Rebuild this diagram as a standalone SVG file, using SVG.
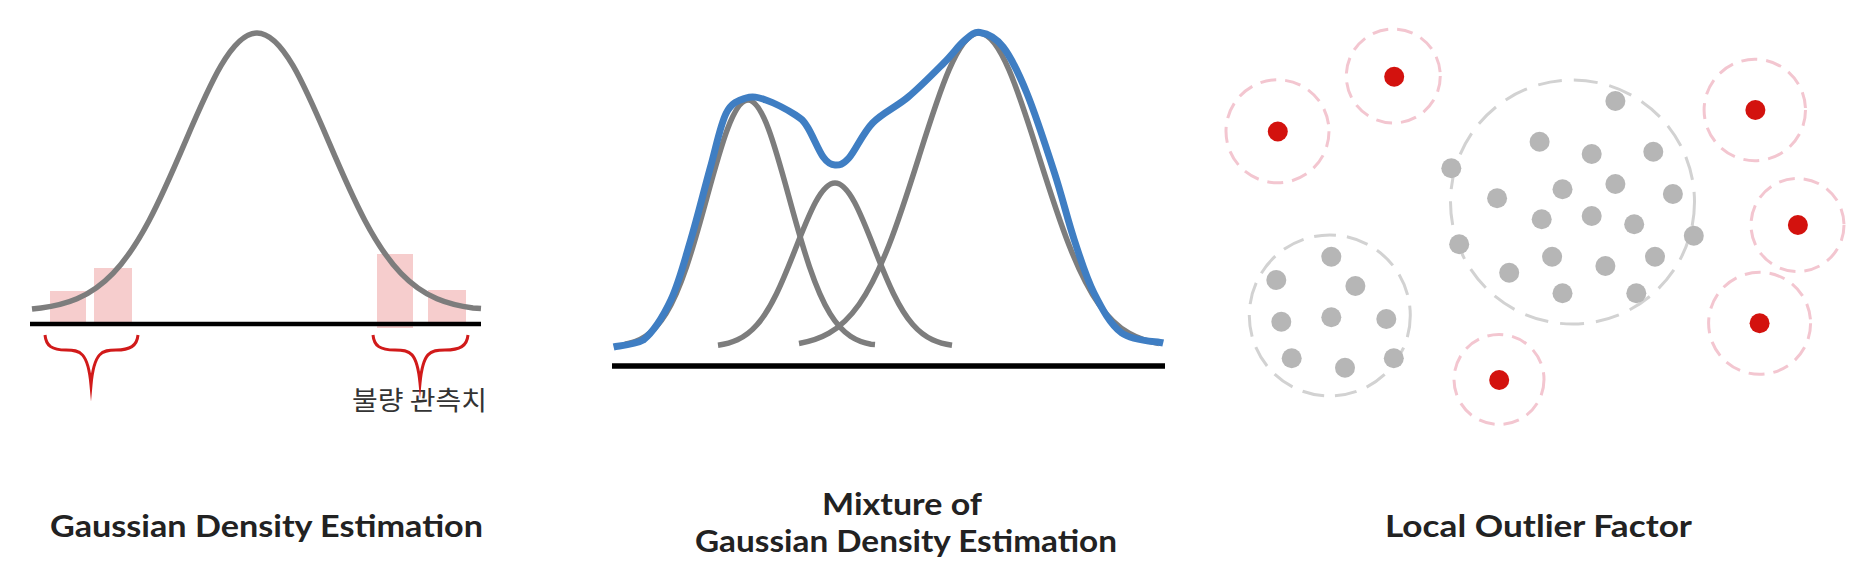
<svg xmlns="http://www.w3.org/2000/svg" width="1854" height="587" viewBox="0 0 1854 587">
<style>
.bar{fill:#f6cdcd}
.axis{stroke:#000;stroke-width:4.5;fill:none}
.gcurve{stroke:#7d7d7d;stroke-width:5.5;fill:none;stroke-linecap:butt}
.bcurve{stroke:#3f7ec3;stroke-width:7;fill:none;stroke-linecap:butt}
.brace{stroke:#d11a1a;stroke-width:3;fill:none;stroke-linejoin:miter;stroke-miterlimit:20}
.pink{fill:none;stroke:#f3c6d0;stroke-width:3;stroke-dasharray:16 9}
.grayc{fill:none;stroke:#d2d2d2;stroke-width:3;stroke-dasharray:24 12}
.red{fill:#d3120e}
.gdot{fill:#b6b6b6}
.title{font-family:Lato,"Open Sans","Liberation Sans",sans-serif;font-weight:700;font-size:30px;fill:#222;text-anchor:middle}
.kor{font-family:"Noto Sans CJK KR","Noto Sans",sans-serif;font-size:26px;fill:#333}
</style>

<g id="gaussian-density">
  <rect class="bar" x="50" y="291" width="36" height="34"/>
  <rect class="bar" x="94" y="268" width="38" height="57"/>
  <rect class="bar" x="377" y="254" width="36" height="74"/>
  <rect class="bar" x="428" y="290" width="38" height="35"/>
  <line class="axis" x1="30" y1="324" x2="481" y2="324"/>
  <path class="gcurve" d="M32,309 L41,307.9 C53,306.4 65,303.9 77,298.8 C89,293.7 101,285.9 113,273.4 C125,260.9 137,243.3 149,220.7 C161,198.1 173,170.5 185,142.4 C197,114.3 209,86.15 221,65.7 C233,45.25 245,33 257,33 C269,33 281,45.25 293,65.7 C305,86.15 317,114.3 329,142.4 C341,170.5 353,198.1 365,220.7 C377,243.3 389,260.9 401,273.4 C413,285.9 425,293.7 437,298.8 C449,303.9 461,306.4 473,307.9 L481,308.5"/>
  <text class="kor" x="352" y="410" textLength="135" lengthAdjust="spacingAndGlyphs">불량 관측치</text>
  <text class="title" x="266.5" y="537" textLength="433" lengthAdjust="spacingAndGlyphs">Gaussian Density Estimation</text>
</g>

<g id="connectors">
  <path class="brace" d="M45,335 C46,346 52,350 66,350 C80,350 88,352 91,385 C94,352 102,350 116,350 C130,350 137,346 138,335"/>
  <path class="brace" d="M373,335 C374,346 380,350 395,350 C410,350 417,352 420,383 C423,352 430,350 445,350 C460,350 467,346 468,335"/>
</g>

<g id="mixture-gaussian">
  <line class="axis" x1="612" y1="366" x2="1165" y2="366" style="stroke-width:5.5"/>
  <path class="gcurve" d="M625,344.3 C631.83,342.93 638.67,340.72 645.5,336.2 C652.33,331.68 659.17,324.74 666,313.6 C672.83,302.46 679.67,286.85 686.5,266.8 C693.33,246.75 700.17,222.17 707,197.2 C713.83,172.23 720.67,147.16 727.5,129 C734.33,110.84 741.17,100 748,100 C754.83,100 761.67,110.84 768.5,129 C775.33,147.16 782.17,172.23 789,197.2 C795.83,222.17 802.67,246.75 809.5,266.8 C816.33,286.85 823.17,302.46 830,313.6 C836.83,324.74 843.67,331.68 850.5,336.2 C857.33,340.72 864.17,342.93 871,344.3 L875,344.6"/>
  <path class="gcurve" d="M718,345.2 C724.5,344.29 731,342.8 737.5,339.8 C744,336.8 750.5,332.2 757,324.8 C763.5,317.4 770,307.01 776.5,293.7 C783,280.39 789.5,264.08 796,247.5 C802.5,230.92 809,214.36 815.5,202.3 C822,190.24 828.5,183 835,183 C841.5,183 848,190.24 854.5,202.3 C861,214.36 867.5,230.92 874,247.5 C880.5,264.08 887,280.39 893.5,293.7 C900,307.01 906.5,317.4 913,324.8 C919.5,332.2 926,336.8 932.5,339.8 C939,342.8 945.5,344.29 952,345.2"/>
  <path class="gcurve" d="M799,343.5 C809,341.76 819,338.95 829,333.2 C839,327.45 849,318.66 859,304.5 C869,290.34 879,270.49 889,245 C899,219.51 909,188.34 919,156.6 C929,124.86 939,92.99 949,69.9 C959,46.81 969,33 979,33 C989,33 999,46.81 1009,69.9 C1019,92.99 1029,124.86 1039,156.6 C1049,188.34 1059,219.51 1069,245 C1079,270.49 1089,290.34 1099,304.5 C1109,318.66 1119,327.45 1129,333.2 C1139,338.95 1149,341.76 1159,343.5"/>
  <path class="bcurve" d="M613.6,347 C618.6,345.8 633.8,345 643.3,340 C652.9,332.2 663,316.7 670.9,300 C678.8,283.3 684.1,262.2 690.7,240 C697.3,217.8 704.6,188.2 710.5,167 C716.4,145.8 720.4,124.5 726.3,113 C732.2,101.5 739.5,100.2 746.1,98 C752.7,95.8 757.6,97.2 765.8,100 C774,102.8 788.6,110.5 795.5,115 C802.4,119.5 802.8,120 807.4,127 C812,134 818.6,150.7 823.2,157 C827.8,163.3 830.7,164.8 835,165 C839.3,165.2 842.6,165 848.9,158 C855.2,151 862.7,133.2 872.6,123 C882.5,112.8 896.3,107 908.2,97 C920.1,87 934.5,72.3 943.8,63 C953.1,53.7 958,46.1 964,41 C970,35.9 973.5,31.5 980,32.5 C986.5,33.5 995.3,36.9 1003.1,47 C1010.9,57.1 1018.2,72 1026.8,93 C1035.4,114 1046.6,148.5 1054.5,173 C1062.4,197.5 1067.7,220 1074.3,240 C1080.9,260 1086.1,277.5 1094,293 C1101.9,308.5 1110.2,324.7 1121.7,333 C1133.2,341.3 1156.3,341.3 1163.2,343"/>
  <text class="title" x="902" y="515" textLength="160" lengthAdjust="spacingAndGlyphs">Mixture of</text>
  <text class="title" x="906" y="552" textLength="422" lengthAdjust="spacingAndGlyphs">Gaussian Density Estimation</text>
</g>

<g id="local-outlier-factor">
  <circle class="grayc" cx="1572.5" cy="202" r="122"/>
  <circle class="grayc" cx="1329.8" cy="315.5" r="80.5" style="stroke-dasharray:22 11"/>
  <g id="outliers">
    <circle class="pink" cx="1277.5" cy="131.3" r="51.5"/>
    <circle class="red" cx="1277.8" cy="131.5" r="10"/>
    <circle class="pink" cx="1393.3" cy="76" r="47"/>
    <circle class="red" cx="1394.2" cy="76.7" r="10"/>
    <circle class="pink" cx="1754.8" cy="110" r="50.7"/>
    <circle class="red" cx="1755.4" cy="110" r="10"/>
    <circle class="pink" cx="1797.5" cy="225" r="46.5"/>
    <circle class="red" cx="1797.9" cy="225" r="10"/>
    <circle class="pink" cx="1759.6" cy="323.3" r="51"/>
    <circle class="red" cx="1759.6" cy="323.3" r="10"/>
    <circle class="pink" cx="1499" cy="379.5" r="45"/>
    <circle class="red" cx="1499.2" cy="380" r="10"/>
  </g>
  <g id="cluster-large">
    <circle class="gdot" cx="1615.4" cy="101" r="10"/>
    <circle class="gdot" cx="1539.6" cy="141.7" r="10"/>
    <circle class="gdot" cx="1591.7" cy="154" r="10"/>
    <circle class="gdot" cx="1653.3" cy="151.7" r="10"/>
    <circle class="gdot" cx="1451.3" cy="168.3" r="10"/>
    <circle class="gdot" cx="1562.5" cy="189.3" r="10"/>
    <circle class="gdot" cx="1615.4" cy="184" r="10"/>
    <circle class="gdot" cx="1672.9" cy="194" r="10"/>
    <circle class="gdot" cx="1497.1" cy="198.3" r="10"/>
    <circle class="gdot" cx="1541.7" cy="219.3" r="10"/>
    <circle class="gdot" cx="1591.7" cy="216" r="10"/>
    <circle class="gdot" cx="1634.2" cy="224.3" r="10"/>
    <circle class="gdot" cx="1693.8" cy="235.7" r="10"/>
    <circle class="gdot" cx="1459.2" cy="244.3" r="10"/>
    <circle class="gdot" cx="1552.1" cy="256.7" r="10"/>
    <circle class="gdot" cx="1655" cy="256.7" r="10"/>
    <circle class="gdot" cx="1509.2" cy="272.7" r="10"/>
    <circle class="gdot" cx="1605.4" cy="266" r="10"/>
    <circle class="gdot" cx="1562.5" cy="293.3" r="10"/>
    <circle class="gdot" cx="1636.3" cy="293.3" r="10"/>
  </g>
  <g id="cluster-small">
    <circle class="gdot" cx="1331.3" cy="256.7" r="10"/>
    <circle class="gdot" cx="1276.3" cy="280" r="10"/>
    <circle class="gdot" cx="1355.4" cy="286" r="10"/>
    <circle class="gdot" cx="1281.3" cy="321.7" r="10"/>
    <circle class="gdot" cx="1331.3" cy="317.3" r="10"/>
    <circle class="gdot" cx="1386.3" cy="319" r="10"/>
    <circle class="gdot" cx="1291.7" cy="358.3" r="10"/>
    <circle class="gdot" cx="1345" cy="367.7" r="10"/>
    <circle class="gdot" cx="1393.8" cy="358.3" r="10"/>
  </g>
  <text class="title" x="1538.5" y="537" textLength="307" lengthAdjust="spacingAndGlyphs">Local Outlier Factor</text>
</g>
</svg>
